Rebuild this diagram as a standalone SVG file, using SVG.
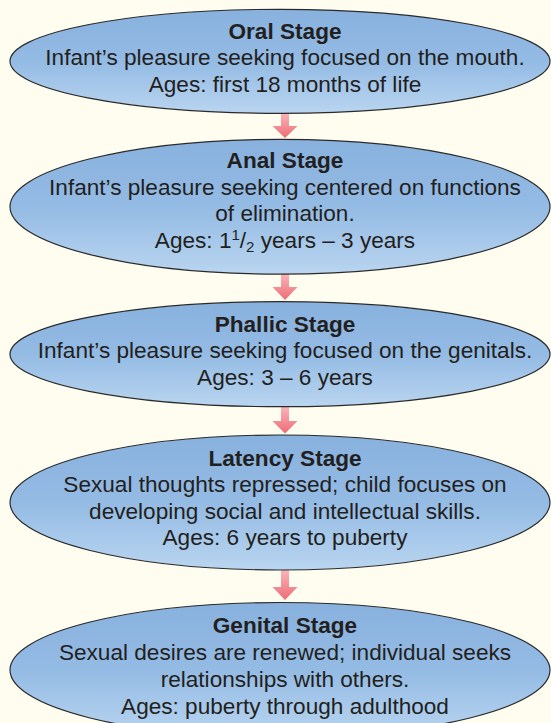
<svg xmlns="http://www.w3.org/2000/svg" width="551" height="723" viewBox="0 0 551 723">
  <defs>
    <linearGradient id="ellFill" x1="0" y1="0" x2="0" y2="1">
      <stop offset="0" stop-color="#88b1de"/>
      <stop offset="0.5" stop-color="#94bbe4"/>
      <stop offset="1" stop-color="#b9d5f0"/>
    </linearGradient>
    <linearGradient id="arrFill" x1="0" y1="0" x2="0" y2="1">
      <stop offset="0" stop-color="#f9b5b9"/>
      <stop offset="1" stop-color="#ee6c76"/>
    </linearGradient>
    <style>
      .ell { fill: url(#ellFill); stroke: #2a2a2a; stroke-width: 1.2; }
      .arr { fill: url(#arrFill); stroke: none; }
      text { font-family: "Liberation Sans", Arial, sans-serif; font-size: 22.6px; fill: #231f20; text-anchor: middle; }
      .t { font-weight: bold; }
    </style>
  </defs>
  <rect x="0" y="0" width="551" height="723" fill="#fffdf0"/>

  <g id="connectors">
    <path class="arr" d="M281,113 H289 V126 H297.5 L285,138 L272.5,126 H281 Z"/>
    <path class="arr" d="M281,274 H289 V287 H297.5 L285,300 L272.5,287 H281 Z"/>
    <path class="arr" d="M281,406.5 H289 V421 H297.5 L285,433.5 L272.5,421 H281 Z"/>
    <path class="arr" d="M281,570 H289 V587 H297.5 L285,600 L272.5,587 H281 Z"/>
  </g>

  <g id="oral">
    <ellipse class="ell" cx="280" cy="61.3" rx="270" ry="52"/>
    <text class="t" x="285" y="38.5">Oral Stage</text>
    <text x="285" y="65">Infant’s pleasure seeking focused on the mouth.</text>
    <text x="285" y="91.5">Ages: first 18 months of life</text>
  </g>

  <g id="anal">
    <ellipse class="ell" cx="280" cy="206.7" rx="270" ry="67.4"/>
    <text class="t" x="285" y="168">Anal Stage</text>
    <text x="285" y="194.5">Infant’s pleasure seeking centered on functions</text>
    <text x="285" y="221">of elimination.</text>
    <text x="285" y="247.5">Ages: 1<tspan font-size="15" dy="-8">1</tspan><tspan dy="8">/</tspan><tspan font-size="15" dy="4">2</tspan><tspan dy="-4"> years – 3 years</tspan></text>
  </g>

  <g id="phallic">
    <ellipse class="ell" cx="280" cy="354.2" rx="270" ry="52.5"/>
    <text class="t" x="285" y="331.5">Phallic Stage</text>
    <text x="285" y="358">Infant’s pleasure seeking focused on the genitals.</text>
    <text x="285" y="384.5">Ages: 3 – 6 years</text>
  </g>

  <g id="latency">
    <ellipse class="ell" cx="280" cy="502.5" rx="270" ry="67.5"/>
    <text class="t" x="285" y="465.5">Latency Stage</text>
    <text x="285" y="492">Sexual thoughts repressed; child focuses on</text>
    <text x="285" y="518.5">developing social and intellectual skills.</text>
    <text x="285" y="545">Ages: 6 years to puberty</text>
  </g>

  <g id="genital">
    <ellipse class="ell" cx="280" cy="670" rx="270" ry="67.5"/>
    <text class="t" x="285" y="633">Genital Stage</text>
    <text x="285" y="660">Sexual desires are renewed; individual seeks</text>
    <text x="285" y="687">relationships with others.</text>
    <text x="285" y="714">Ages: puberty through adulthood</text>
  </g>
</svg>
